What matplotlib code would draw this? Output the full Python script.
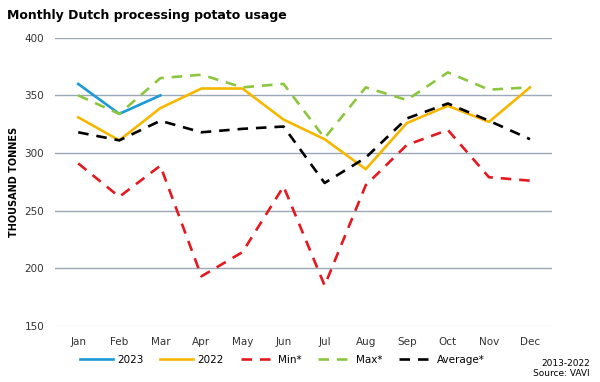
import matplotlib.pyplot as plt

months = ["Jan", "Feb", "Mar", "Apr", "May", "Jun", "Jul", "Aug", "Sep", "Oct", "Nov", "Dec"]
usage_2023 = [360, 334, 350]
usage_2022 = [331, 311, 339, 356, 356, 329, 312, 286, 326, 341, 327, 357]
min_vals = [291, 262, 289, 193, 214, 271, 185, 272, 307, 320, 279, 276]
max_vals = [350, 334, 365, 368, 357, 360, 313, 357, 346, 370, 355, 357]
avg_vals = [318, 311, 328, 318, 321, 323, 274, 296, 330, 343, 328, 312]

fig = plt.figure(figsize=(6, 3.82), dpi=100)
ax = fig.add_axes([0.092, 0.147, 0.828, 0.754])

x = range(len(months))
ax.plot(x[:3], usage_2023, color="#1b9ad6", lw=1.9, label="2023")
ax.plot(x, usage_2022, color="#f5b700", lw=1.9, label="2022")
ax.plot(x, min_vals, color="#e3191f", lw=1.9, ls=(0, (4, 3)), label="Min*")
ax.plot(x, max_vals, color="#8cc63f", lw=1.9, ls=(0, (4, 3)), label="Max*")
ax.plot(x, avg_vals, color="black", lw=1.9, ls=(0, (4, 3)), label="Average*")

ax.set_ylim(150, 400)
ax.set_yticks([150, 200, 250, 300, 350, 400])
ax.set_xlim(-0.56, 11.535)
ax.set_xticks(list(x))
ax.set_xticklabels(months)
ax.grid(axis="y", color="#9aa8b8", lw=1)
ax.get_ygridlines()[0].set_color("#e6e9ee")
ax.set_axisbelow(True)
for s in ax.spines.values():
    s.set_visible(False)
ax.tick_params(length=0, labelsize=7.5, colors="#333333")
ax.tick_params(axis="x", pad=8)
ax.tick_params(axis="y", pad=8)
ax.set_ylabel("THOUSAND TONNES", fontsize=7, fontweight="bold")
ax.yaxis.set_label_coords(-0.072, 0.5)

fig.text(0.012, 0.95, "Monthly Dutch processing potato usage", fontsize=9, fontweight="bold")
fig.legend(loc="lower center", bbox_to_anchor=(0.47, 0.02), ncol=5, frameon=False,
           fontsize=7.5, handlelength=3.2, columnspacing=1.6, handletextpad=0.4)
fig.text(0.983, 0.01, "2013-2022\nSource: VAVI", ha="right", va="bottom", fontsize=6.5)

fig.savefig("out.png")
